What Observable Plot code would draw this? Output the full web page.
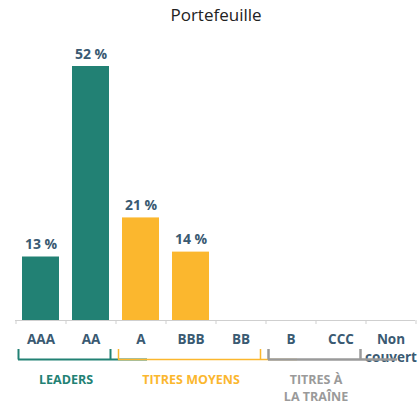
<!DOCTYPE html>
<html>
<head>
<meta charset="utf-8">
<script src="https://cdn.jsdelivr.net/npm/d3@7"></script>
<script src="https://cdn.jsdelivr.net/npm/@observablehq/plot@0.6"></script>
<style>
  body { margin: 0; background: #fff; }
  #title { width: 418px; height: 30px; box-sizing: border-box; padding-left: 14px; text-align: center;
    font-family: "Open Sans", sans-serif; font-size: 17px; line-height: 30px; color: #222; }
  svg { display: block; }
</style>
</head>
<body>
<div id="title">Portefeuille</div>
<div id="chart"></div>
<script>
const categories = ["AAA", "AA", "A", "BBB", "BB", "B", "CCC", "Non\ncouvert"];
const values = [13, 52, 21, 14, 0, 0, 0, 0];
const groupOf = ["leaders", "leaders", "moyens", "moyens", "moyens", "traine", "traine", "none"];
const groups = [
  {key: "leaders", label: "LEADERS", first: "AAA", last: "AA"},
  {key: "moyens", label: "TITRES MOYENS", first: "A", last: "BB"},
  {key: "traine", label: "TITRES À\nLA TRAÎNE", first: "B", last: "CCC"}
];
const colors = {leaders: "#228174", moyens: "#fbb72e", traine: "#9a9a9a", none: "#3a5a72"};
const strokeW = {leaders: 2, moyens: 1.5, traine: 2.5};

const data = categories.map((c, i) => ({cat: c, value: values[i], group: groupOf[i]}));
const labelled = data.filter(d => d.value > 0);
const textColor = "#3a5a72";
const step = 50;
const count = g => categories.indexOf(g.last) - categories.indexOf(g.first) + 1;

const plot = Plot.plot({
  width: 418,
  height: 374,
  marginLeft: 15,
  marginRight: 3,
  marginTop: 36,
  marginBottom: 84,
  style: {fontFamily: "'Open Sans', sans-serif", background: "#fff"},
  x: {domain: categories, paddingInner: 0.26, paddingOuter: 0.13, axis: null},
  y: {domain: [0, 52], axis: null},
  marks: [
    Plot.barY(data, {x: "cat", y: "value", fill: d => colors[d.group]}),
    Plot.ruleY([0], {stroke: "#cfcfcf", strokeWidth: 1}),
    // boundary ticks
    Plot.ruleX(categories, {x: d => d, y1: 0, y2: 0, insetTop: 0, insetBottom: -4, dx: -step / 2, stroke: "#cfcfcf"}),
    Plot.ruleX([categories[categories.length - 1]], {x: d => d, y1: 0, y2: 0, insetTop: 0, insetBottom: -4, dx: step / 2, stroke: "#cfcfcf"}),
    Plot.axisX({tickSize: 0, tickPadding: 10.5, fontSize: 13.5, fontWeight: "bold", fill: textColor, lineHeight: 1.33}),
    Plot.text(labelled, {x: "cat", y: "value", text: d => `${d.value} %`, lineAnchor: "bottom", dy: -8,
      fontSize: 14, fontWeight: "bold", fill: textColor}),
    // brackets
    ...groups.flatMap(g => [
      Plot.ruleY([g], {y: () => 0, x1: "first", x2: "last", insetLeft: -4, insetRight: -(step * 0.74 + 1), dy: 39,
        stroke: colors[g.key], strokeWidth: strokeW[g.key]}),
      Plot.ruleX([g], {x: "first", y1: 0, y2: 0, insetTop: 29, insetBottom: -39.5, dx: -(step * 0.37 + 4),
        stroke: colors[g.key], strokeWidth: strokeW[g.key]}),
      Plot.ruleX([g], {x: "last", y1: 0, y2: 0, insetTop: 29, insetBottom: -39.5, dx: step * 0.37 + 1,
        stroke: colors[g.key], strokeWidth: strokeW[g.key]}),
      Plot.text([g], {x: "first", y: () => 0, text: "label", dx: (count(g) - 1) * step / 2, dy: 52,
        lineAnchor: "top", fontSize: 12.5, fontWeight: "bold", fill: colors[g.key], lineHeight: 1.34})
    ])
  ]
});
document.getElementById("chart").appendChild(plot);
</script>
</body>
</html>
